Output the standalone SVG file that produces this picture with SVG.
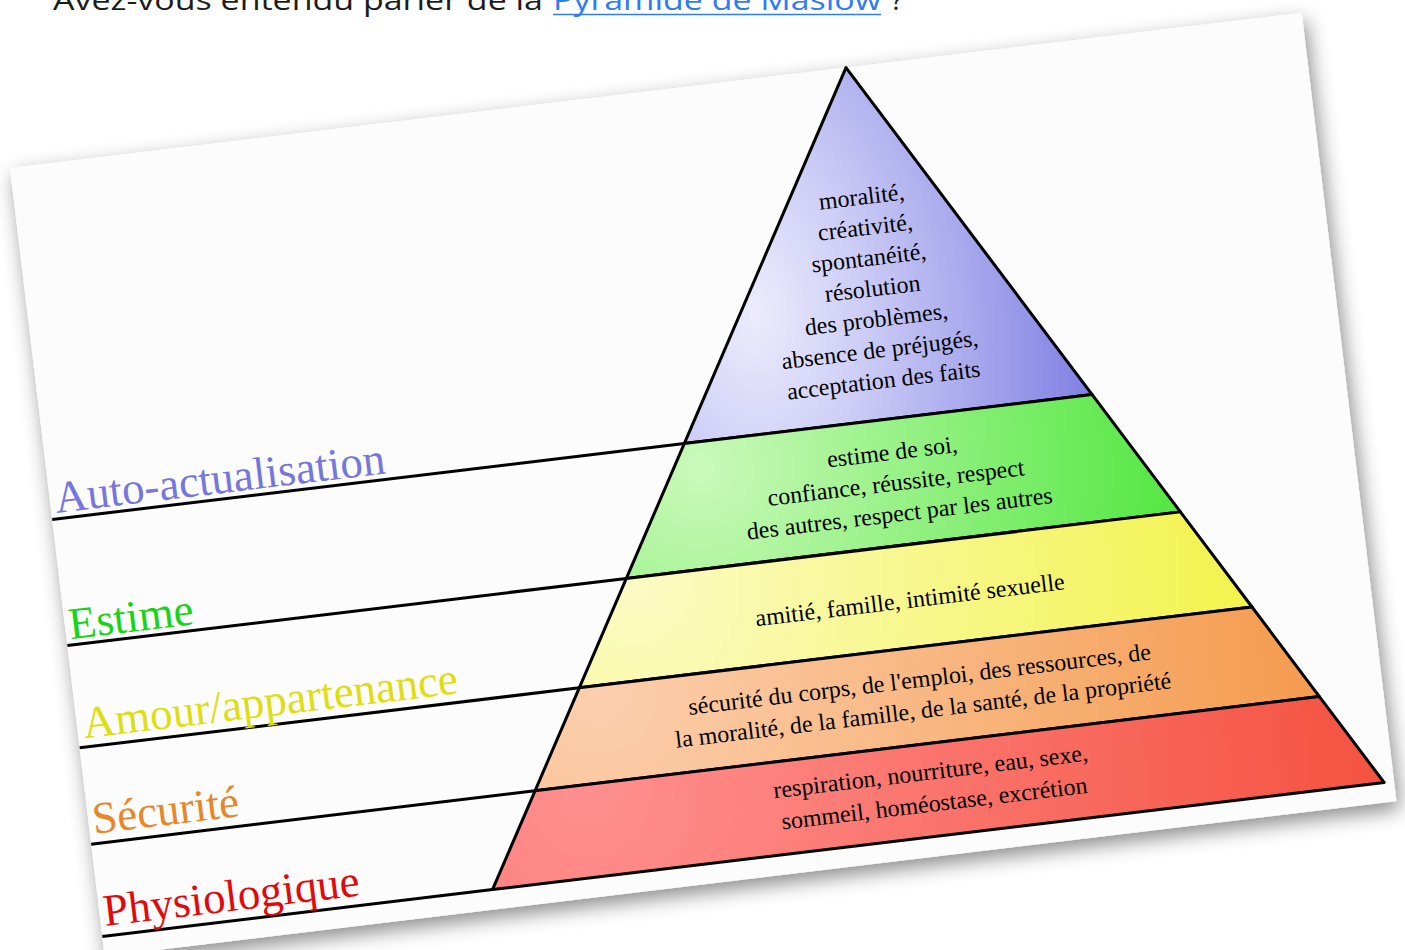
<svg xmlns="http://www.w3.org/2000/svg" width="1405" height="950" viewBox="0 0 1405 950">
<style>
.hdr{font-family:"Open Sans","Liberation Sans",sans-serif;font-size:28px;fill:#1c1c1c}
.lnk{fill:#2f7bf5}
.lbl{font-family:"Liberation Serif","DejaVu Serif",serif;font-size:45px}
.inner{font-family:"Liberation Serif","DejaVu Serif",serif;font-size:24px;fill:#000;text-anchor:middle}
.band{stroke:#000;stroke-width:3;stroke-linejoin:round}
.conn line{stroke:#000;stroke-width:3;stroke-linecap:butt}
</style>
<defs>
<filter id="shadow" x="-6%" y="-8%" width="112%" height="120%">
<feDropShadow dx="3" dy="8" stdDeviation="10" flood-color="#000" flood-opacity="0.45"/>
</filter>
<radialGradient id="gBlue" gradientUnits="userSpaceOnUse" cx="720" cy="230" r="400" gradientTransform="translate(720 230) scale(1 1.6) translate(-720 -230)">
<stop offset="0" stop-color="#ececfd"/><stop offset="0.25" stop-color="#d0d0f7"/><stop offset="1" stop-color="#6a6ade"/>
</radialGradient>
<radialGradient id="gGreen" gradientUnits="userSpaceOnUse" cx="650" cy="380" r="500">
<stop offset="0" stop-color="#caf9ba"/><stop offset="1" stop-color="#4ee63c"/>
</radialGradient>
<radialGradient id="gYellow" gradientUnits="userSpaceOnUse" cx="570" cy="490" r="640">
<stop offset="0" stop-color="#fbfbc4"/><stop offset="1" stop-color="#f2f248"/>
</radialGradient>
<radialGradient id="gOrange" gradientUnits="userSpaceOnUse" cx="520" cy="590" r="740">
<stop offset="0" stop-color="#fccfae"/><stop offset="1" stop-color="#f49a4c"/>
</radialGradient>
<radialGradient id="gRed" gradientUnits="userSpaceOnUse" cx="500" cy="690" r="820">
<stop offset="0" stop-color="#ff8f8f"/><stop offset="1" stop-color="#f4503e"/>
</radialGradient>
</defs>
<rect width="1405" height="950" fill="#ffffff"/>
<g id="header">
<text class="hdr" x="53" y="10" textLength="490" lengthAdjust="spacingAndGlyphs">Avez-vous entendu parler de la</text>
<text class="hdr lnk" x="553" y="10" textLength="328" lengthAdjust="spacingAndGlyphs">Pyramide de Maslow</text>
<line x1="553" y1="14.5" x2="881" y2="14.5" stroke="#2f7bf5" stroke-width="1.6"/>
<text class="hdr" x="891" y="10">?</text>
</g>
<g id="page" transform="translate(10,168) rotate(-6.85)">
<rect id="card" x="0" y="0" width="1301" height="794" fill="#fcfcfc" filter="url(#shadow)"/>
<g id="connectors" class="conn">
<line x1="0" y1="354" x2="636.6" y2="354"/>
<line x1="0" y1="481" x2="563" y2="481"/>
<line x1="0" y1="584" x2="503.2" y2="584"/>
<line x1="0" y1="681" x2="447" y2="681"/>
<line x1="0" y1="774" x2="393" y2="774"/>
</g>
<g id="level-auto">
<polygon class="band" points="842,0 1047.4,354 636.6,354" fill="url(#gBlue)"/>
<text class="inner" x="842" y="138">moralité,</text>
<text class="inner" x="842" y="168.8">créativité,</text>
<text class="inner" x="842" y="199.6">spontanéité,</text>
<text class="inner" x="842" y="230.4">résolution</text>
<text class="inner" x="842" y="261.2">des problèmes,</text>
<text class="inner" x="842" y="292">absence de préjugés,</text>
<text class="inner" x="842" y="322.8">acceptation des faits</text>
<text class="lbl" x="5" y="348" fill="#7676dc">Auto-actualisation</text>
</g>
<g id="level-estime">
<polygon class="band" points="636.6,354 1047.4,354 1121,481 563,481" fill="url(#gGreen)"/>
<text class="inner" x="842" y="395">estime de soi,</text>
<text class="inner" x="842" y="426">confiance, réussite, respect</text>
<text class="inner" x="842" y="457">des autres, respect par les autres</text>
<text class="lbl" x="4" y="475" fill="#18d418">Estime</text>
</g>
<g id="level-amour">
<polygon class="band" points="563,481 1121,481 1180.8,584 503.2,584" fill="url(#gYellow)"/>
<text class="inner" x="842" y="544">amitié, famille, intimité sexuelle</text>
<text class="lbl" x="6" y="575" fill="#dede12">Amour/appartenance</text>
</g>
<g id="level-securite">
<polygon class="band" points="503.2,584 1180.8,584 1237,681 447,681" fill="url(#gOrange)"/>
<text class="inner" x="842" y="624">sécurité du corps, de l'emploi, des ressources, de</text>
<text class="inner" x="842" y="655">la moralité, de la famille, de la santé, de la propriété</text>
<text class="lbl" x="4" y="671" fill="#e8862a">Sécurité</text>
</g>
<g id="level-physio">
<polygon class="band" points="447,681 1237,681 1291,774 393,774" fill="url(#gRed)"/>
<text class="inner" x="842" y="717">respiration, nourriture, eau, sexe,</text>
<text class="inner" x="842" y="749">sommeil, homéostase, excrétion</text>
<text class="lbl" x="4" y="764" fill="#e00a0a">Physiologique</text>
</g>
</g>
</svg>
